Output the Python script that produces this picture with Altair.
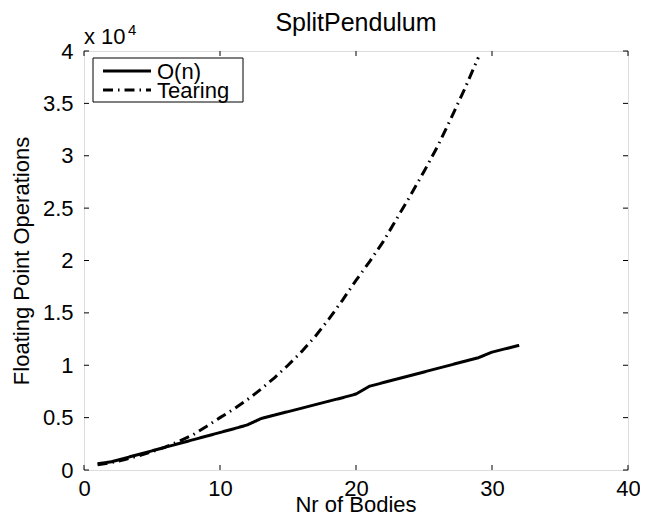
import altair as alt
import pandas as pd

# ---- data ----
bodies_on = list(range(1, 33))
flops_on = [600, 780, 1130, 1480, 1830, 2180, 2530, 2880, 3230, 3580, 3930, 4300,
            4900, 5240, 5570, 5900, 6240, 6570, 6900, 7250, 8000, 8340, 8680, 9020,
            9360, 9700, 10040, 10380, 10720, 11250, 11580, 11900]
bodies_tear = list(range(1, 30))
flops_tear = [500, 700, 1000, 1350, 1750, 2200, 2750, 3350, 4150, 5000, 5800, 6700,
              7700, 8800, 10000, 11300, 12750, 14400, 16200, 18100, 19900, 21800,
              24000, 26200, 28500, 30900, 33600, 36400, 39400]
series_names = ["O(n)", "Tearing"]
x_ticks = [0, 10, 20, 30, 40]
y_ticks = [0, 5000, 10000, 15000, 20000, 25000, 30000, 35000, 40000]
title_text = "SplitPendulum"
x_title = "Nr of Bodies"
y_title = "Floating Point Operations"

W, H = 544, 419
FONT = "Liberation Sans"
FS = 22

df = pd.DataFrame({
    "n": bodies_on + bodies_tear,
    "flops": flops_on + flops_tear,
    "series": [series_names[0]] * len(bodies_on) + [series_names[1]] * len(bodies_tear),
})
xt = pd.DataFrame({"v": x_ticks})
yt = pd.DataFrame({"v": y_ticks})

xscale = alt.Scale(domain=[0, 40], nice=False, zero=False)
yscale = alt.Scale(domain=[0, 40000], nice=False, zero=False)

xaxis = alt.Axis(values=x_ticks, ticks=False, grid=False, domain=False,
                 labelFontSize=FS, labelFont=FONT, labelColor="black",
                 labelPadding=8, labelFlush=False, labelOverlap=False, title=None)
yaxis = alt.Axis(values=y_ticks, ticks=False, grid=False, domain=False,
                 labelExpr="datum.value / 10000 + ''",
                 labelFontSize=FS, labelFont=FONT, labelColor="black",
                 labelPadding=11, labelFlush=False, labelOverlap=False,
                 title=y_title, titleFont=FONT, titleFontSize=FS,
                 titleFontWeight="normal", titleColor="black", titlePadding=9)

DASH = [10, 5, 1.5, 5]

lines = alt.Chart(df).mark_line(color="black", strokeWidth=3, strokeCap="butt").encode(
    x=alt.X("n:Q", scale=xscale, axis=xaxis),
    y=alt.Y("flops:Q", scale=yscale, axis=yaxis),
    strokeDash=alt.StrokeDash("series:N",
                              scale=alt.Scale(domain=series_names, range=[[1, 0], DASH]),
                              legend=None),
    detail="series:N",
)

tick_style = dict(color="black", strokeWidth=1)
xb = alt.Chart(xt).mark_rule(**tick_style).encode(
    x=alt.X("v:Q", scale=xscale, axis=xaxis), y=alt.value(H), y2=alt.value(H - 5))
xtop = alt.Chart(xt).mark_rule(**tick_style).encode(
    x=alt.X("v:Q", scale=xscale, axis=xaxis), y=alt.value(0), y2=alt.value(5))
yl = alt.Chart(yt).mark_rule(**tick_style).encode(
    y=alt.Y("v:Q", scale=yscale, axis=yaxis), x=alt.value(0), x2=alt.value(5))
yr = alt.Chart(yt).mark_rule(**tick_style).encode(
    y=alt.Y("v:Q", scale=yscale, axis=yaxis), x=alt.value(W), x2=alt.value(W - 5))

one = pd.DataFrame({"a": [0]})
# legend (drawn manually, MATLAB style)
leg_box = alt.Chart(one).mark_rect(fill="white", stroke="black", strokeWidth=1).encode(
    x=alt.value(9), x2=alt.value(159), y=alt.value(7), y2=alt.value(51))
leg_o = alt.Chart(one).mark_rule(color="black", strokeWidth=3, strokeCap="butt").encode(
    x=alt.value(19), x2=alt.value(67), y=alt.value(20))
leg_t = alt.Chart(one).mark_rule(color="black", strokeWidth=3, strokeCap="butt",
                                 strokeDash=DASH).encode(
    x=alt.value(19), x2=alt.value(67), y=alt.value(39))
leg_txt_o = alt.Chart(pd.DataFrame({"t": [series_names[0]]})).mark_text(
    align="left", baseline="alphabetic", font=FONT, fontSize=FS, color="black").encode(
    x=alt.value(73), y=alt.value(28), text="t:N")
leg_txt_t = alt.Chart(pd.DataFrame({"t": [series_names[1]]})).mark_text(
    align="left", baseline="alphabetic", font=FONT, fontSize=FS, color="black").encode(
    x=alt.value(73), y=alt.value(47), text="t:N")

# exponent label
exp_base = alt.Chart(pd.DataFrame({"t": ["x 10"]})).mark_text(
    align="left", baseline="alphabetic", font=FONT, fontSize=FS, color="black").encode(
    x=alt.value(0), y=alt.value(-7), text="t:N")
exp_sup = alt.Chart(pd.DataFrame({"t": ["4"]})).mark_text(
    align="left", baseline="alphabetic", font=FONT, fontSize=15, color="black").encode(
    x=alt.value(44), y=alt.value(-16), text="t:N")

# title and x-axis title
ttl = alt.Chart(pd.DataFrame({"t": [title_text]})).mark_text(
    align="center", baseline="alphabetic", font=FONT, fontSize=25, color="black").encode(
    x=alt.value(W / 2), y=alt.value(-20), text="t:N")
xttl = alt.Chart(pd.DataFrame({"t": [x_title]})).mark_text(
    align="center", baseline="alphabetic", font=FONT, fontSize=FS, color="black").encode(
    x=alt.value(W / 2), y=alt.value(H + 42), text="t:N")

chart = alt.layer(
    lines, xb, xtop, yl, yr, leg_box, leg_o, leg_t, leg_txt_o, leg_txt_t,
    exp_base, exp_sup, ttl, xttl
).properties(
    width=W, height=H,
    autosize=alt.AutoSizeParams(type="none"),
    padding={"left": 76, "top": 43, "right": 12, "bottom": 46},
).configure_view(stroke="black", strokeWidth=1).configure(background="white")

chart.save("out.html", embed_options={"renderer": "svg", "actions": False})
